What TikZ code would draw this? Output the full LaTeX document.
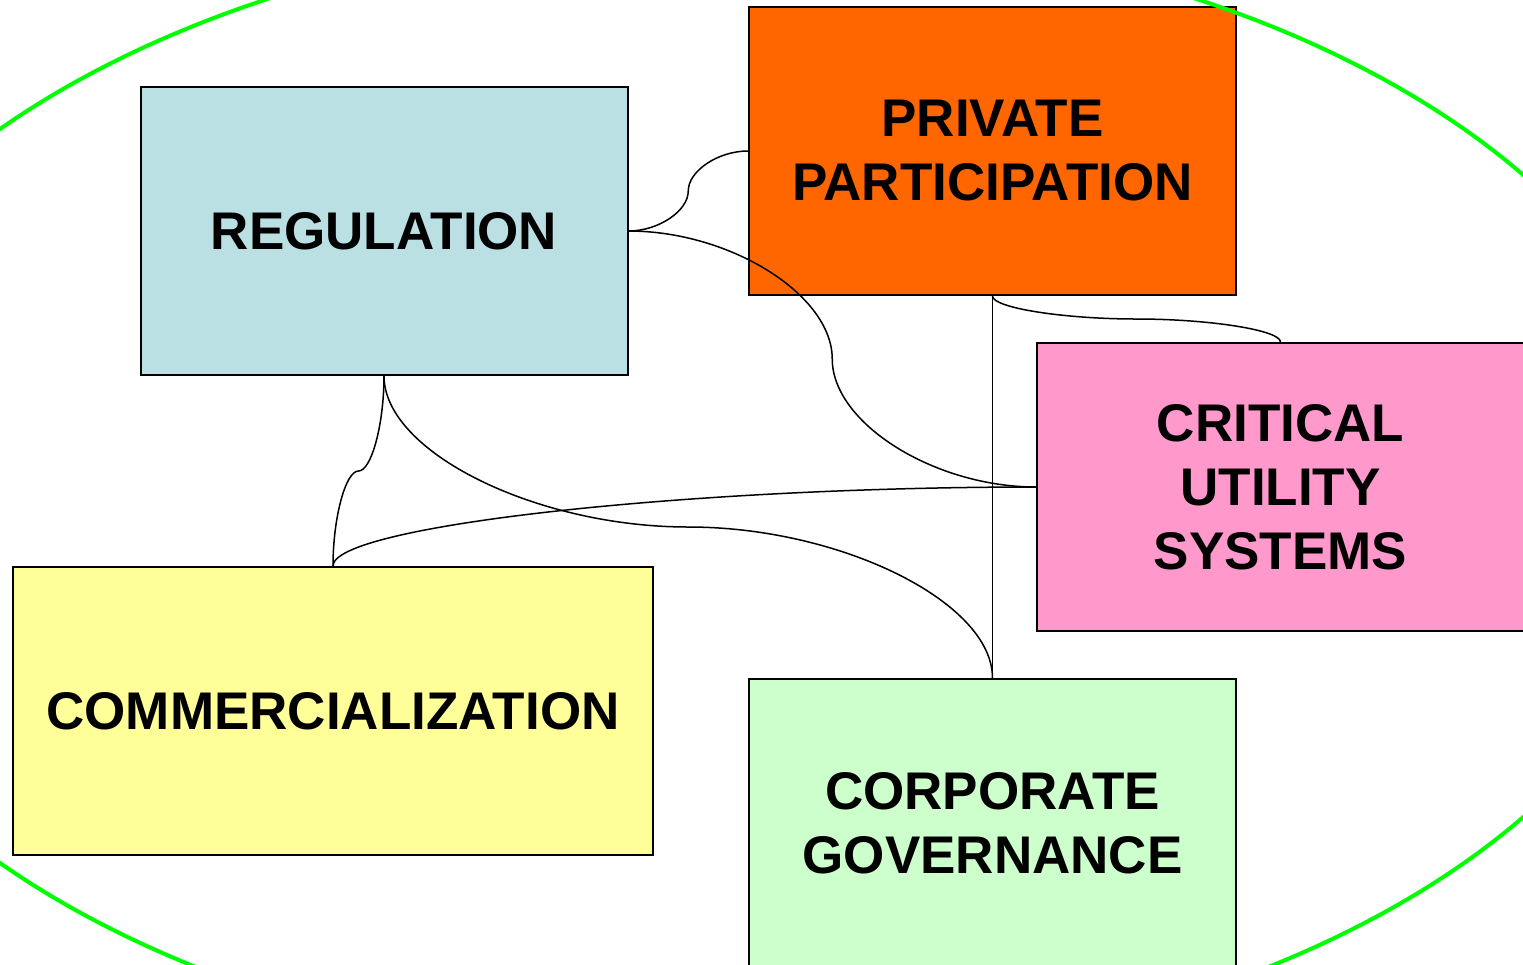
\documentclass[tikz,border=0pt]{standalone}
\usepackage{fontspec}
\setsansfont{Liberation Sans}
\usetikzlibrary{calc}

\definecolor{regblue}{HTML}{BBE0E3}
\definecolor{privorange}{HTML}{FF6600}
\definecolor{critpink}{HTML}{FF99CC}
\definecolor{commyellow}{HTML}{FFFF99}
\definecolor{corpgreen}{HTML}{CCFFCC}
\definecolor{ringgreen}{HTML}{00FF00}

\begin{document}
\begin{tikzpicture}[x=0.5pt, y=-0.5pt,
    box/.style = {draw, line width=1pt, inner sep=0pt, minimum width=243.5pt, minimum height=144pt,
                  align=center, font=\sffamily\bfseries\fontsize{26.5}{32}\selectfont},
    link/.style = {line width=0.75pt}]
    \useasboundingbox (0,0) rectangle (1523,965);

    \node[box, fill=regblue] (reg) at (384,231) {REGULATION};
    \node[box, fill=privorange] (priv) at (992.5,151) {PRIVATE\\PARTICIPATION};
    \node[box, fill=critpink] (crit) at (1280.5,487) {CRITICAL\\UTILITY\\SYSTEMS};
    \node[box, fill=commyellow, minimum width=320pt] (comm) at (333,711) {COMMERCIALIZATION};
    \node[box, fill=corpgreen] (corp) at (992.5,823) {CORPORATE\\GOVERNANCE};

    \draw[ringgreen, line width=2pt] (732,496) ellipse [x radius=959, y radius=568];

    \coordinate (m1) at ($(reg.east)!0.5!(priv.west)$);
    \coordinate (m2) at ($(reg.east)!0.5!(crit.west)$);
    \coordinate (m3) at ($(reg.south)!0.5!(comm.north)$);
    \coordinate (m4) at ($(reg.south)!0.5!(corp.north)$);
    \coordinate (m5) at ($(priv.south)!0.5!(crit.north)$);

    \draw[link] (reg.east) .. controls +(30,0) and +(0,20) .. (m1)
                .. controls +(0,-20) and +(-30,0) .. (priv.west);
    \draw[link] (reg.east) .. controls +(102,0) and +(0,-64) .. (m2)
                .. controls +(0,64) and +(-102,0) .. (crit.west);
    \draw[link] (reg.south) .. controls +(0,48) and +(13,0) .. (m3)
                .. controls +(-13,0) and +(0,-48) .. (comm.north);
    \draw[link] (reg.south) .. controls +(0,76) and +(-152,0) .. (m4)
                .. controls +(152,0) and +(0,-76) .. (corp.north);
    \draw[link] (comm.north) .. controls +(0,-40) and +(-352,0) .. (crit.west);
    \draw[link] (priv.south) -- (corp.north);
    \draw[link] (priv.south) .. controls +(0,12) and +(-72,0) .. (m5)
                .. controls +(72,0) and +(0,-12) .. (crit.north);
\end{tikzpicture}
\end{document}
